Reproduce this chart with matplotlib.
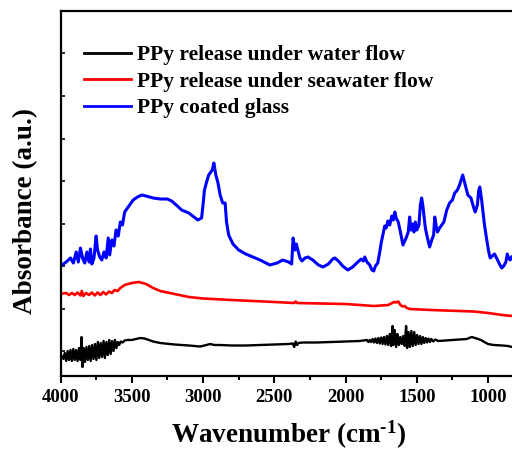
import matplotlib
matplotlib.use("Agg")
import matplotlib.pyplot as plt
import numpy as np

plt.rcParams['font.family'] = ['Liberation Serif', 'DejaVu Serif']
plt.rcParams['font.weight'] = 'bold'
plt.rcParams['mathtext.fontset'] = 'custom'
plt.rcParams['mathtext.rm'] = 'Liberation Serif:bold'
plt.rcParams['mathtext.it'] = 'Liberation Serif:bold'
plt.rcParams['mathtext.bf'] = 'Liberation Serif:bold'
plt.rcParams['mathtext.default'] = 'rm'

labels = ["PPy release under water flow", "PPy release under seawater flow", "PPy coated glass"]
colors = ["black", "red", "blue"]

# ---- PPy release under water flow (black) ----
water_x = [4000, 3990, 3980, 3970, 3960, 3950, 3940, 3930, 3920, 3910, 3900, 3890, 3880, 3870,
           3860, 3852, 3846, 3838, 3828, 3818, 3808, 3798, 3788, 3778, 3768, 3758, 3748, 3738,
           3728, 3718, 3708, 3698, 3688, 3678, 3668, 3658, 3648, 3638, 3628, 3618, 3608, 3598,
           3588, 3578, 3565, 3550, 3530, 3500, 3470, 3440, 3410, 3380, 3350, 3300, 3200, 3100, 3020,
           2990, 2950, 2920, 2880, 2800, 2700, 2600, 2500, 2400, 2370, 2360, 2350, 2340, 2330,
           2300, 2200, 2100, 2000, 1900,
           1850, 1840, 1830, 1820, 1810, 1800, 1790, 1780, 1770, 1760, 1750, 1740, 1730, 1720,
           1710, 1700, 1690, 1680, 1670, 1665, 1655, 1645, 1635, 1625, 1615, 1605, 1595, 1585,
           1575, 1568, 1558, 1548, 1538, 1528, 1518, 1508, 1498, 1488, 1478, 1468, 1458, 1448,
           1438, 1428, 1418, 1408, 1398, 1385, 1370, 1350, 1300, 1250, 1200, 1150, 1115, 1080,
           1050, 1020, 1000, 960, 900, 860, 832]
water_y = [0.43, 0.44, 0.41, 0.47, 0.39, 0.49, 0.40, 0.50, 0.39, 0.51, 0.40, 0.50, 0.39, 0.52,
           0.40, 0.63, 0.33, 0.52, 0.38, 0.53, 0.40, 0.54, 0.39, 0.55, 0.41, 0.56, 0.40, 0.58,
           0.42, 0.57, 0.43, 0.59, 0.42, 0.58, 0.45, 0.60, 0.46, 0.59, 0.49, 0.60, 0.52, 0.58,
           0.55, 0.585, 0.575, 0.595, 0.60, 0.60, 0.61, 0.62, 0.615, 0.60, 0.585, 0.57, 0.555, 0.545, 0.535,
           0.545, 0.56, 0.55, 0.55, 0.545, 0.545, 0.55, 0.555, 0.56, 0.565, 0.53, 0.585, 0.55, 0.57,
           0.575, 0.575, 0.58, 0.585, 0.59,
           0.60, 0.58, 0.60, 0.58, 0.61, 0.575, 0.615, 0.57, 0.62, 0.565, 0.625, 0.56, 0.63, 0.555,
           0.64, 0.55, 0.66, 0.54, 0.74, 0.55, 0.70, 0.53, 0.66, 0.55, 0.63, 0.56, 0.64, 0.54,
           0.74, 0.52, 0.68, 0.53, 0.69, 0.54, 0.68, 0.55, 0.65, 0.56, 0.64, 0.56, 0.63, 0.57,
           0.62, 0.575, 0.615, 0.58, 0.61, 0.585, 0.605, 0.59, 0.595, 0.60, 0.605, 0.61, 0.63, 0.615,
           0.60, 0.575, 0.56, 0.55, 0.545, 0.54, 0.53]

# ---- PPy release under seawater flow (red) ----
sea_x = [4000, 3960, 3940, 3920, 3900, 3880, 3860, 3850, 3840, 3820, 3800, 3780, 3760, 3740,
         3720, 3700, 3680, 3660, 3640, 3620, 3600, 3580, 3550, 3500, 3450, 3400, 3350, 3300,
         3200, 3100, 3000, 2800, 2500, 2360, 2350, 2340, 2000, 1800, 1700, 1680, 1660, 1645,
         1630, 1615, 1600, 1585, 1570, 1550, 1400, 1200, 1100, 1000, 900, 832]
sea_y = [1.06, 1.07, 1.05, 1.07, 1.05, 1.075, 1.045, 1.09, 1.04, 1.07, 1.05, 1.075, 1.045, 1.075,
         1.05, 1.08, 1.055, 1.085, 1.07, 1.10, 1.09, 1.12, 1.15, 1.17, 1.18, 1.16, 1.12, 1.09,
         1.06, 1.03, 1.015, 1.00, 0.98, 0.97, 0.985, 0.97, 0.96, 0.94, 0.95, 0.965, 0.98, 0.975,
         0.985, 0.95, 0.935, 0.94, 0.92, 0.91, 0.90, 0.89, 0.885, 0.87, 0.85, 0.84]

# ---- PPy coated glass (blue) ----
glass_x = [4000, 3960, 3930, 3910, 3890, 3875, 3860, 3845, 3830, 3815, 3800, 3790, 3780, 3765,
           3750, 3740, 3725, 3710, 3695, 3680, 3665, 3655, 3640, 3625, 3610, 3595, 3580, 3565,
           3550, 3530, 3510, 3490, 3460, 3430, 3400, 3350, 3300, 3250, 3220, 3180, 3150, 3100,
           3036, 3010, 3000, 2990, 2975, 2960, 2945, 2935, 2924, 2910, 2895, 2880, 2862, 2845,
           2835, 2820, 2790, 2750, 2700, 2650, 2600, 2531, 2480, 2440, 2400, 2378, 2368, 2355,
           2345, 2334, 2320, 2306, 2285, 2264, 2230, 2190, 2159, 2120, 2090, 2075, 2050, 2020,
           1984, 1950, 1914, 1890, 1875, 1865, 1850, 1830, 1815, 1802, 1790, 1774, 1760, 1750,
           1738, 1725, 1715, 1703, 1690, 1675, 1665, 1654, 1645, 1630, 1615, 1597, 1575, 1560,
           1550, 1542, 1530, 1520, 1510, 1500, 1485, 1475, 1466, 1458, 1450, 1440, 1425, 1410,
           1395, 1382, 1374, 1365, 1355, 1340, 1325, 1310, 1290, 1270, 1250, 1234, 1215, 1200,
           1178, 1160, 1142, 1120, 1100, 1090, 1075, 1065, 1058, 1045, 1037, 1025, 1009, 995,
           985, 970, 955, 940, 920, 904, 890, 875, 865, 855, 845, 834]
glass_y = [1.34, 1.38, 1.42, 1.37, 1.48, 1.38, 1.52, 1.42, 1.37, 1.48, 1.38, 1.51, 1.36, 1.42,
           1.64, 1.50, 1.43, 1.40, 1.48, 1.42, 1.62, 1.45, 1.60, 1.54, 1.70, 1.64, 1.78, 1.75,
           1.88, 1.92, 1.96, 2.00, 2.03, 2.05, 2.04, 2.02, 2.01, 2.01, 1.99, 1.94, 1.90, 1.87,
           1.80, 1.82, 1.95, 2.10, 2.18, 2.25, 2.28, 2.30, 2.37, 2.25, 2.17, 2.05, 1.97, 1.97,
           1.78, 1.65, 1.56, 1.50, 1.46, 1.43, 1.40, 1.35, 1.37, 1.40, 1.38, 1.36, 1.62, 1.50,
           1.56, 1.50, 1.42, 1.39, 1.42, 1.43, 1.40, 1.35, 1.33, 1.36, 1.41, 1.42, 1.39, 1.34,
           1.30, 1.33, 1.38, 1.41, 1.39, 1.43, 1.38, 1.35, 1.30, 1.29, 1.34, 1.37, 1.48, 1.57,
           1.65, 1.74, 1.72, 1.79, 1.75, 1.84, 1.80, 1.88, 1.82, 1.78, 1.68, 1.55, 1.62, 1.68,
           1.83, 1.70, 1.76, 1.68, 1.78, 1.70, 1.75, 1.95, 2.02, 1.95, 1.85, 1.72, 1.62, 1.53,
           1.60, 1.65, 1.83, 1.75, 1.68, 1.72, 1.75, 1.78, 1.90, 1.97, 2.00, 2.07, 2.10, 2.15,
           2.25, 2.15, 2.05, 2.02, 1.92, 1.88, 1.95, 2.10, 2.13, 2.00, 1.90, 1.75, 1.60, 1.48,
           1.42, 1.44, 1.46, 1.42, 1.36, 1.32, 1.34, 1.38, 1.46, 1.42, 1.40, 1.43]

series_x = [water_x, sea_x, glass_x]
series_y = [water_y, sea_y, glass_y]
widths = [1.7, 1.9, 2.2]

fig = plt.figure(figsize=(5.12, 4.51), dpi=100)
ax = fig.add_axes([60.5 / 512, 1 - 376 / 451, (512 - 60.5) / 512, 365 / 451])

handles = []
for xs, ys, c, lw, lab in zip(series_x, series_y, colors, widths, labels):
    h, = ax.plot(xs, ys, color=c, lw=lw, label=lab, solid_joinstyle='round')
    handles.append(h)

ax.set_xlim(4000, 832)
ax.set_ylim(0.24, 3.89)
ax.set_xticks([4000, 3500, 3000, 2500, 2000, 1500, 1000])
ax.set_xticks(np.arange(3750, 800, -500), minor=True)
ax.set_yticks(np.arange(0.49, 3.6, 0.425))
ax.tick_params(axis='x', which='major', direction='out', length=5, width=1.5,
               labelsize=13.5, pad=4)
ax.tick_params(axis='x', which='minor', direction='out', length=3, width=1.5)
ax.tick_params(axis='y', which='major', direction='in', length=3, width=1.2,
               labelleft=False)
for lab in ax.get_xticklabels():
    lab.set_fontweight('bold')
for s in ['left', 'bottom', 'top']:
    ax.spines[s].set_linewidth(1.6)
ax.spines['right'].set_visible(False)

leg = ax.legend(handles=handles, loc='upper left', frameon=False,
                bbox_to_anchor=(84 / 512, 1 - 45 / 451), bbox_transform=fig.transFigure,
                borderpad=0, borderaxespad=0, handlelength=2.2, handletextpad=0.25,
                labelspacing=0.3, prop={'family': 'Liberation Serif', 'weight': 'bold', 'size': 15.5})
for l in leg.get_lines():
    l.set_linewidth(2.0)

fig.text(289 / 512, 1 - 443 / 451, r"Wavenumber (cm$^{\text{-1}}$)", ha='center', va='baseline',
         fontsize=19.5, fontweight='bold')
fig.text(26 / 512, 1 - 211 / 451, "Absorbance (a.u.)", ha='center', va='center',
         rotation=90, fontsize=19.5, fontweight='bold')

fig.savefig("out.png", dpi=100)
